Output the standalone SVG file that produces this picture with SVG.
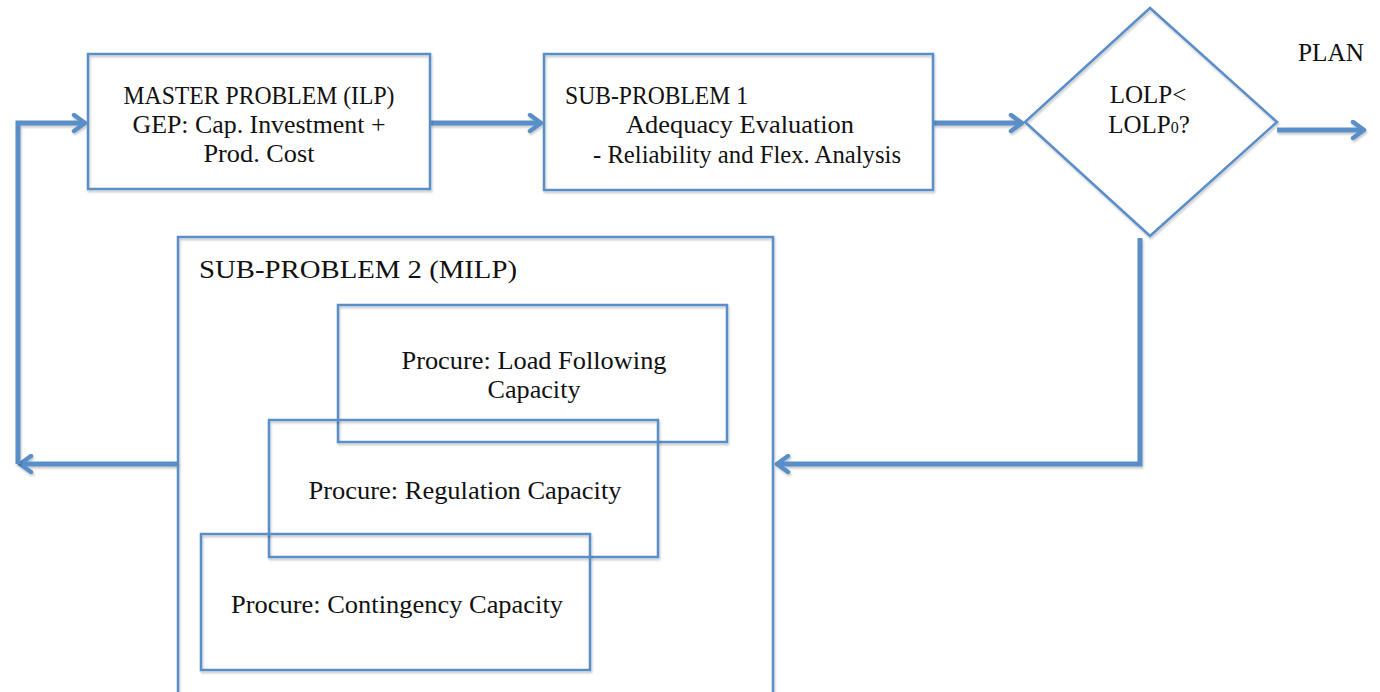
<svg xmlns="http://www.w3.org/2000/svg" width="1380" height="692" viewBox="0 0 1380 692">
<style>
.box{fill:none;stroke:#5a8ec8;stroke-width:2.5;filter:url(#sh)}
.conn{fill:none;stroke:#5a8ec8;stroke-width:5;stroke-linejoin:miter;filter:url(#sh)}
text{font-family:"Liberation Serif","Times New Roman",serif;font-size:25px;fill:#111}
.c{text-anchor:middle}
</style>
<defs>
<filter id="sh" filterUnits="userSpaceOnUse" x="0" y="0" width="1380" height="692">
<feDropShadow dx="1" dy="2" stdDeviation="1.2" flood-color="#000" flood-opacity="0.22"/>
</filter>
<marker id="arr" viewBox="0 0 20 20" refX="17" refY="10" markerWidth="20" markerHeight="20" markerUnits="userSpaceOnUse" orient="auto">
<path d="M6,2 L17,10 L6,18" fill="none" stroke="#5a8ec8" stroke-width="4.5" stroke-linecap="round" stroke-linejoin="round"/>
</marker>
</defs>
<rect width="1380" height="692" fill="#fff"/>
<g id="connectors">
<path class="conn" d="M430,123 L541,123" marker-end="url(#arr)"/>
<path class="conn" d="M933,123 L1022,123" marker-end="url(#arr)"/>
<path class="conn" d="M1277,130 L1364,130" marker-end="url(#arr)"/>
<path class="conn" d="M1140,238 L1140,464 L777,464" marker-end="url(#arr)"/>
<path class="conn" d="M178,464 L20,464" marker-end="url(#arr)"/>
<path class="conn" d="M18,464 L18,123 L85,123" marker-end="url(#arr)"/>
</g>
<g id="master">
<rect class="box" x="88" y="54" width="342" height="135"/>
<text class="c" x="259" y="104" textLength="271" lengthAdjust="spacingAndGlyphs">MASTER PROBLEM (ILP)</text>
<text class="c" x="259" y="133" textLength="253" lengthAdjust="spacingAndGlyphs">GEP: Cap. Investment +</text>
<text class="c" x="259" y="162" textLength="111" lengthAdjust="spacingAndGlyphs">Prod. Cost</text>
</g>
<g id="sub1">
<rect class="box" x="544" y="54" width="389" height="136"/>
<text x="565" y="104" textLength="183" lengthAdjust="spacingAndGlyphs">SUB-PROBLEM 1</text>
<text class="c" x="740" y="133" textLength="228" lengthAdjust="spacingAndGlyphs">Adequacy Evaluation</text>
<text class="c" x="747" y="163" textLength="308" lengthAdjust="spacingAndGlyphs">- Reliability and Flex. Analysis</text>
</g>
<g id="decision">
<polygon class="box" points="1150,8 1277,122 1150,236 1025,122"/>
<text class="c" x="1148" y="103" font-size="23">LOLP&lt;</text>
<text class="c" x="1149" y="133" font-size="23">LOLP<tspan font-size="16">0</tspan>?</text>
</g>
<g id="plan">
<text x="1298" y="61" textLength="66" lengthAdjust="spacingAndGlyphs">PLAN</text>
</g>
<g id="sub2">
<rect class="box" x="178" y="237" width="595" height="470"/>
<text x="199" y="278" font-size="29" textLength="318" lengthAdjust="spacingAndGlyphs">SUB-PROBLEM 2 (MILP)</text>
</g>
<g id="load">
<rect class="box" x="338" y="305" width="389" height="137"/>
<text class="c" x="534" y="369" textLength="265" lengthAdjust="spacingAndGlyphs">Procure: Load Following</text>
<text class="c" x="534" y="398" textLength="93" lengthAdjust="spacingAndGlyphs">Capacity</text>
</g>
<g id="regulation">
<rect class="box" x="269" y="420" width="389" height="137"/>
<text class="c" x="465" y="499" textLength="313" lengthAdjust="spacingAndGlyphs">Procure: Regulation Capacity</text>
</g>
<g id="contingency">
<rect class="box" x="201" y="534" width="389" height="136"/>
<text class="c" x="397" y="613" textLength="332" lengthAdjust="spacingAndGlyphs">Procure: Contingency Capacity</text>
</g>
</svg>
